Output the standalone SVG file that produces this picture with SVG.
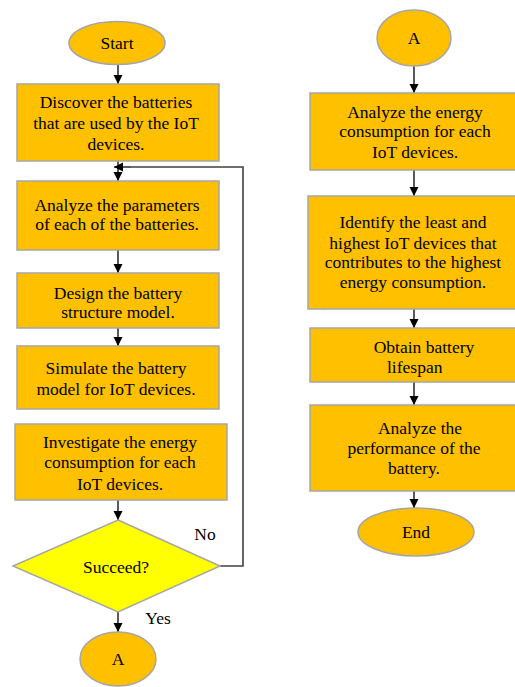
<svg xmlns="http://www.w3.org/2000/svg" width="515" height="687" viewBox="0 0 515 687">
  <style>
    .proc { fill: #FFC000; stroke: #A6A6A6; stroke-width: 1.5; }
    .term { fill: #FFC000; stroke: #A6A6A6; stroke-width: 1.5; }
    .dec { fill: #FFFF00; stroke: #A6A6A6; stroke-width: 1.5; }
    .lbl { font-family: "Liberation Serif", "Times New Roman", serif; font-size: 17.5px; fill: #000; text-anchor: middle; }
    .edge { fill: none; stroke: #000; stroke-width: 1.3; }
    .loop { fill: none; stroke: #404040; stroke-width: 1.6; }
  </style>
  <defs>
    <marker id="arrow" markerWidth="10" markerHeight="10" refX="9" refY="5" orient="auto" markerUnits="userSpaceOnUse">
      <path d="M0,0.5 L9,5 L0,9.5 Z" fill="#000"/>
    </marker>
  </defs>

  <rect width="515" height="687" fill="#fff"/>

  <!-- connectors -->
  <g id="connectors">
    <line class="edge" x1="118" y1="65" x2="118" y2="84" marker-end="url(#arrow)"/>
    <line class="edge" x1="118" y1="161" x2="118" y2="181" marker-end="url(#arrow)"/>
    <line class="edge" x1="118" y1="250" x2="118" y2="273" marker-end="url(#arrow)"/>
    <line class="edge" x1="118" y1="328" x2="118" y2="346" marker-end="url(#arrow)"/>
    <line class="edge" x1="118" y1="500" x2="118" y2="520" marker-end="url(#arrow)"/>
    <line class="edge" x1="118" y1="612" x2="118" y2="632" marker-end="url(#arrow)"/>
    <polyline class="loop" points="220,566 243,566 243,167 131,167"/>
    <line class="edge" x1="131" y1="167" x2="114" y2="167" marker-end="url(#arrow)"/>
    <line class="edge" x1="414" y1="66" x2="414" y2="93" marker-end="url(#arrow)"/>
    <line class="edge" x1="414" y1="170" x2="414" y2="196" marker-end="url(#arrow)"/>
    <line class="edge" x1="414" y1="309" x2="414" y2="328" marker-end="url(#arrow)"/>
    <line class="edge" x1="414" y1="382" x2="414" y2="405" marker-end="url(#arrow)"/>
    <line class="edge" x1="414" y1="491" x2="414" y2="508" marker-end="url(#arrow)"/>
  </g>

  <!-- left column -->
  <g id="start">
    <ellipse class="term" cx="117" cy="43" rx="48" ry="21.5"/>
    <text class="lbl" x="117" y="49">Start</text>
  </g>
  <g id="discover">
    <rect class="proc" x="17" y="84" width="202" height="77"/>
    <text class="lbl" x="116" y="108">Discover the batteries</text>
    <text class="lbl" x="116" y="129">that are used by the IoT</text>
    <text class="lbl" x="116" y="150">devices.</text>
  </g>
  <g id="analyze-params">
    <rect class="proc" x="17" y="181" width="202" height="69"/>
    <text class="lbl" x="117" y="211">Analyze the parameters</text>
    <text class="lbl" x="117" y="230">of each of the batteries.</text>
  </g>
  <g id="design">
    <rect class="proc" x="17" y="273" width="202" height="55"/>
    <text class="lbl" x="118" y="299">Design the battery</text>
    <text class="lbl" x="118" y="318">structure model.</text>
  </g>
  <g id="simulate">
    <rect class="proc" x="17" y="346" width="202" height="63"/>
    <text class="lbl" x="116" y="374">Simulate the battery</text>
    <text class="lbl" x="116" y="395">model for IoT devices.</text>
  </g>
  <g id="investigate">
    <rect class="proc" x="15" y="424" width="212" height="76"/>
    <text class="lbl" x="120" y="448">Investigate the energy</text>
    <text class="lbl" x="120" y="468">consumption for each</text>
    <text class="lbl" x="120" y="490">IoT devices.</text>
  </g>
  <g id="succeed">
    <polygon class="dec" points="118,520 220,566 118,612 13,566"/>
    <text class="lbl" x="116" y="573">Succeed?</text>
    <text class="lbl" x="205" y="540">No</text>
    <text class="lbl" x="158" y="624">Yes</text>
  </g>
  <g id="connector-a-out">
    <ellipse class="term" cx="118" cy="659" rx="38" ry="27"/>
    <text class="lbl" x="118" y="665">A</text>
  </g>

  <!-- right column -->
  <g id="connector-a-in">
    <ellipse class="term" cx="414" cy="38" rx="37" ry="28"/>
    <text class="lbl" x="414" y="44">A</text>
  </g>
  <g id="analyze-energy">
    <rect class="proc" x="310" y="93" width="212" height="77"/>
    <text class="lbl" x="415" y="118">Analyze the energy</text>
    <text class="lbl" x="415" y="137">consumption for each</text>
    <text class="lbl" x="415" y="158">IoT devices.</text>
  </g>
  <g id="identify">
    <rect class="proc" x="308" y="196" width="214" height="113"/>
    <text class="lbl" x="413" y="228">Identify the least and</text>
    <text class="lbl" x="413" y="249">highest IoT devices that</text>
    <text class="lbl" x="413" y="268">contributes to the highest</text>
    <text class="lbl" x="413" y="288">energy consumption.</text>
  </g>
  <g id="lifespan">
    <rect class="proc" x="310" y="328" width="212" height="54"/>
    <text class="lbl" x="424" y="353">Obtain battery</text>
    <text class="lbl" x="387" y="373" style="text-anchor:start">lifespan</text>
  </g>
  <g id="performance">
    <rect class="proc" x="310" y="405" width="212" height="86"/>
    <text class="lbl" x="420" y="434">Analyze the</text>
    <text class="lbl" x="414" y="454">performance of the</text>
    <text class="lbl" x="414" y="474">battery.</text>
  </g>
  <g id="end">
    <ellipse class="term" cx="416" cy="532" rx="58" ry="24"/>
    <text class="lbl" x="416" y="538">End</text>
  </g>
</svg>
